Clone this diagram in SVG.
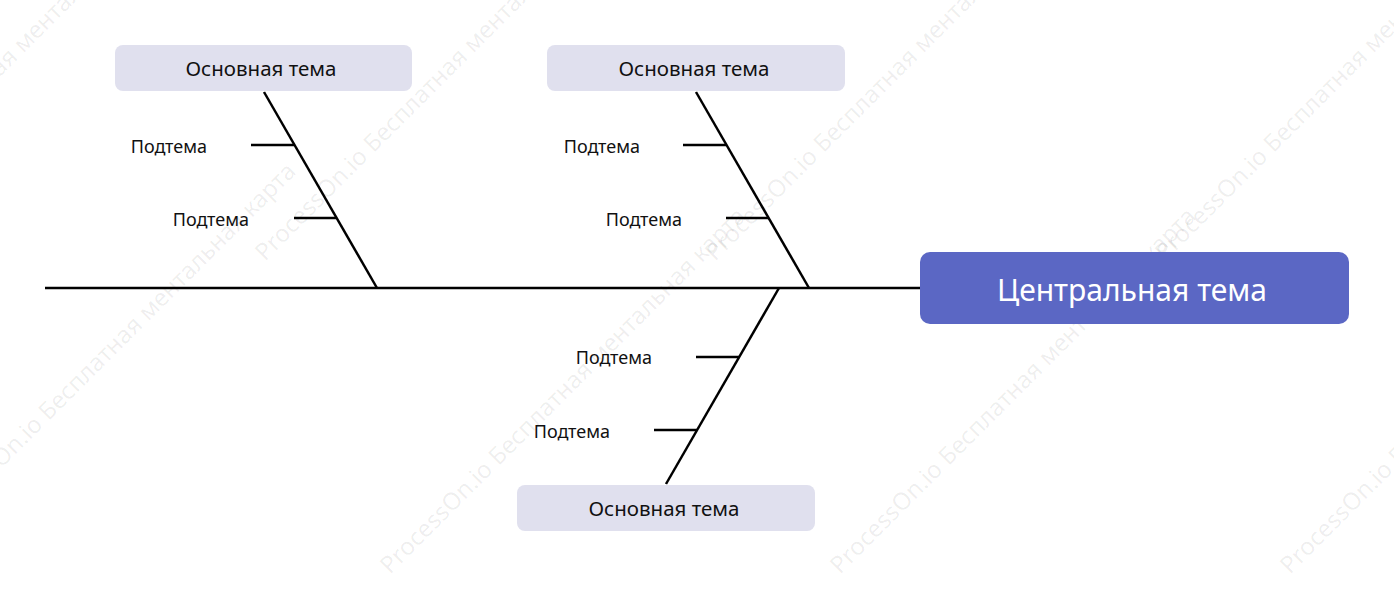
<svg xmlns="http://www.w3.org/2000/svg" width="1394" height="591" viewBox="0 0 1394 591">
<style>
.wm{font-family:"Noto Sans","Open Sans",sans-serif;font-size:24px;fill:#000;fill-opacity:0.07}
.main{fill:#e0e0ee}
.mt{font-family:"Noto Sans","Open Sans",sans-serif;font-size:20.5px;fill:#111;text-anchor:middle;dominant-baseline:central}
.st{font-family:"Noto Sans","Open Sans",sans-serif;font-size:18px;fill:#111;text-anchor:end;dominant-baseline:central}
.ln{stroke:#000;stroke-width:2.5;fill:none}
</style>
<rect width="1394" height="591" fill="#fff"/>
<g id="watermarks">
<text class="wm" transform="translate(265,262) rotate(-45)">ProcessOn.io Бесплатная ментальная карта</text>
<text class="wm" transform="translate(715,262) rotate(-45)">ProcessOn.io Бесплатная ментальная карта</text>
<text class="wm" transform="translate(1165,262) rotate(-45)">ProcessOn.io Бесплатная ментальная карта</text>
<text class="wm" transform="translate(-185,262) rotate(-45)">ProcessOn.io Бесплатная ментальная карта</text>
<text class="wm" transform="translate(-60,530) rotate(-45)">ProcessOn.io Бесплатная ментальная карта</text>
<text class="wm" transform="translate(390,575) rotate(-45)">ProcessOn.io Бесплатная ментальная карта</text>
<text class="wm" transform="translate(840,575) rotate(-45)">ProcessOn.io Бесплатная ментальная карта</text>
<text class="wm" transform="translate(1290,575) rotate(-45)">ProcessOn.io Бесплатная ментальная карта</text>
</g>
<g id="connectors">
<line class="ln" x1="45" y1="288" x2="920" y2="288"/>
<line class="ln" x1="264" y1="92" x2="377" y2="288"/>
<line class="ln" x1="251" y1="145" x2="294" y2="145"/>
<line class="ln" x1="294" y1="218" x2="336" y2="218"/>
<line class="ln" x1="696" y1="92" x2="809" y2="288"/>
<line class="ln" x1="683" y1="145" x2="726" y2="145"/>
<line class="ln" x1="726" y1="218" x2="769" y2="218"/>
<line class="ln" x1="779" y1="288" x2="666" y2="484"/>
<line class="ln" x1="696" y1="357" x2="739" y2="357"/>
<line class="ln" x1="654" y1="430" x2="697" y2="430"/>
</g>
<g id="central"><rect x="920" y="252" width="429" height="72" rx="10" fill="#5b67c4"/><text x="1132" y="289" font-family="Noto Sans,Open Sans,sans-serif" font-size="30" fill="#fff" text-anchor="middle" dominant-baseline="central">Центральная тема</text></g>
<g id="main1"><rect class="main" x="115" y="45" width="297" height="46" rx="8"/><text class="mt" x="261" y="68">Основная тема</text></g>
<g id="main2"><rect class="main" x="547" y="45" width="298" height="46" rx="8"/><text class="mt" x="694" y="68">Основная тема</text></g>
<g id="main3"><rect class="main" x="517" y="485" width="298" height="46" rx="8"/><text class="mt" x="664" y="508">Основная тема</text></g>
<g id="sub1"><text class="st" x="207" y="146">Подтема</text></g>
<g id="sub2"><text class="st" x="249" y="219">Подтема</text></g>
<g id="sub3"><text class="st" x="640" y="146">Подтема</text></g>
<g id="sub4"><text class="st" x="682" y="219">Подтема</text></g>
<g id="sub5"><text class="st" x="652" y="357">Подтема</text></g>
<g id="sub6"><text class="st" x="610" y="431">Подтема</text></g>
</svg>
